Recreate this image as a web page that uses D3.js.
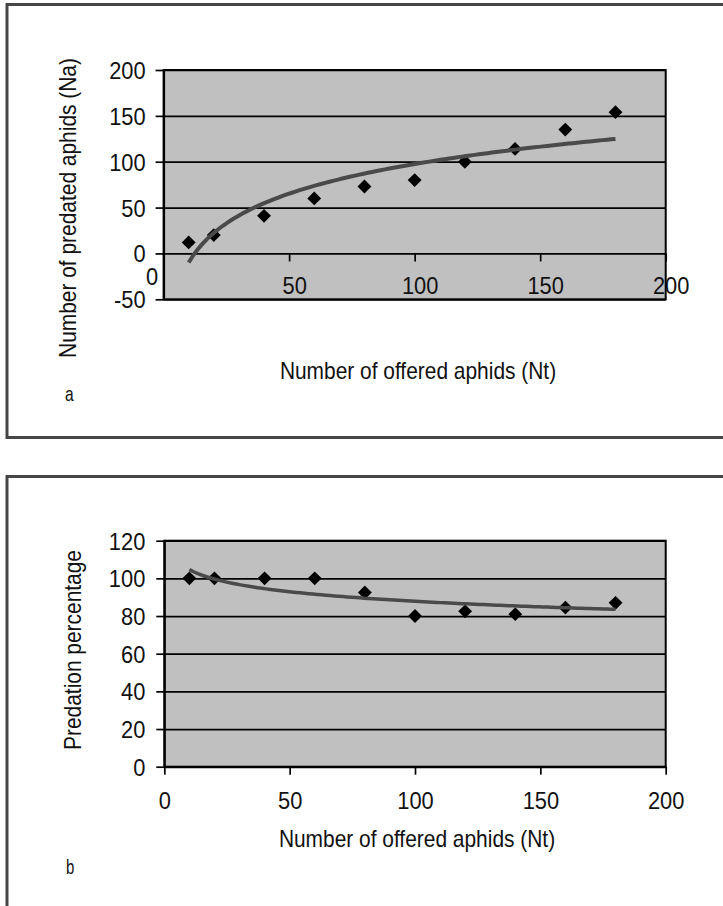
<!DOCTYPE html>
<html><head><meta charset="utf-8">
<script src="https://cdn.jsdelivr.net/npm/d3@7"></script>
<style>
body{margin:0;background:#fff}
svg{display:block}
text{font-family:"Liberation Sans", Arial, Helvetica, sans-serif; fill:#111}
</style>
</head><body>
<svg id="chart" width="723" height="906"></svg>
<script>
// ---- data ----
const offered = [10, 20, 40, 60, 80, 100, 120, 140, 160, 180];          // Nt
const predated = [12, 20, 41, 60, 73, 80, 100, 114, 135, 154];          // Na
const percentage = [100, 100, 100, 100, 92.5, 80, 82.5, 81, 84.5, 87];  // %
const xTickValues = [0, 50, 100, 150, 200];
const yTicksA = [-50, 0, 50, 100, 150, 200];
const yTicksB = [0, 20, 40, 60, 80, 100, 120];
const xTitle = "Number of offered aphids (Nt)";
const yTitleA = "Number of predated aphids (Na)";
const yTitleB = "Predation percentage";

const svg = d3.select("#chart");
const SX = 0.91;      // horizontal squeeze of the condensed font
const FS = 23;
const TFS = 24;       // tick label size
const fmt = d => String(d);   // plain hyphen for negatives, as in the reference

// logarithmic trend line (least squares on ln x), like a spreadsheet trendline
function logFit(xs, ys) {
  const L = xs.map(Math.log);
  const mL = d3.mean(L), mY = d3.mean(ys);
  let sxy = 0, sxx = 0;
  L.forEach((l, i) => { sxy += (l - mL) * (ys[i] - mY); sxx += (l - mL) ** 2; });
  const a = sxy / sxx, b = mY - a * mL;
  return x => a * Math.log(x) + b;
}

function label(g, txt, x, y, opts = {}) {
  return g.append("text")
    .attr("transform", `translate(${x},${y})` + (opts.rotate ? " rotate(-90)" : "") + ` scale(${opts.sx || SX},1)`)
    .attr("text-anchor", opts.anchor || "middle")
    .attr("font-size", opts.size || FS)
    .text(txt);
}

function squeezeAxisText(axisG, dx, dy, anchor) {
  axisG.selectAll(".tick text")
    .attr("x", null).attr("y", null).attr("dy", null)
    .attr("font-size", TFS)
    .attr("font-family", '"Liberation Sans", Arial, sans-serif')
    .attr("fill", "#111")
    .attr("text-anchor", anchor)
    .attr("transform", `translate(${dx},${dy}) scale(${SX},1)`);
}

function diamonds(g, xs, ys, x, y) {
  const sym = d3.symbol().type(d3.symbolSquare).size(96);
  g.selectAll("path.pt").data(xs).join("path")
    .attr("class", "pt")
    .attr("d", sym)
    .attr("fill", "#000")
    .attr("transform", (d, i) => `translate(${x(d)},${y(ys[i])}) rotate(45)`);
}

function trend(g, xs, ys, x, y, w) {
  const f = logFit(xs, ys);
  const x0 = d3.min(xs), x1 = d3.max(xs);
  const samples = d3.range(0, 101).map(i => x0 + (x1 - x0) * i / 100);
  g.append("path")
    .attr("d", d3.line().x(d => x(d)).y(d => y(f(d)))(samples))
    .attr("fill", "none").attr("stroke", "#4a4a4a").attr("stroke-width", w)
    .attr("stroke-linecap", "butt");
}

// ---- panel frames ----
svg.append("rect").attr("x", 7).attr("y", 4.5).attr("width", 730).attr("height", 433)
  .attr("fill", "none").attr("stroke", "#464646").attr("stroke-width", 3);
svg.append("rect").attr("x", 7).attr("y", 476.5).attr("width", 730).attr("height", 450)
  .attr("fill", "none").attr("stroke", "#464646").attr("stroke-width", 3);

// ================= panel a =================
{
  const L = 163.6, R = 665.7, T = 70, B = 299.3;
  const x = d3.scaleLinear().domain([0, 200]).range([L, R]);
  const y = d3.scaleLinear().domain([-50, 200]).range([B, T]);
  const g = svg.append("g");

  g.append("rect").attr("x", L).attr("y", T).attr("width", R - L).attr("height", B - T).attr("fill", "#c0c0c0");

  const ya = g.append("g").attr("transform", `translate(${L},0)`)
    .call(d3.axisLeft(y).tickValues(yTicksA).tickSizeInner(8).tickSizeOuter(0).tickFormat(fmt));
  ya.select(".domain").attr("stroke", "#000").attr("stroke-width", 2);
  ya.selectAll(".tick line").attr("x2", 0).attr("x1", -8).attr("stroke", "#000").attr("stroke-width", 1.7);
  ya.selectAll(".tick").append("line").attr("x1", 0).attr("x2", R - L).attr("stroke", "#000").attr("stroke-width", 1.7);
  squeezeAxisText(ya, -18, 8.5, "end");

  const xa = g.append("g").attr("transform", `translate(0,${y(0)})`)
    .call(d3.axisBottom(x).tickValues(xTickValues).tickSizeInner(8).tickSizeOuter(0).tickFormat(fmt));
  xa.select(".domain").remove();
  xa.selectAll(".tick line").attr("stroke", "#000").attr("stroke-width", 1.7);
  squeezeAxisText(xa, 5, 41, "middle");
  xa.selectAll(".tick text").filter(d => d === 0).attr("transform", `translate(-12,32) scale(${SX},1)`);

  g.append("rect").attr("x", L).attr("y", T).attr("width", R - L).attr("height", B - T)
    .attr("fill", "none").attr("stroke", "#000").attr("stroke-width", 2);

  diamonds(g, offered, predated, x, y);
  trend(g, offered, predated, x, y, 4);

  label(g, yTitleA, 76, 208, { rotate: true });
  label(g, xTitle, 418, 379);
  label(g, "a", 65, 401, { anchor: "start", size: 20, sx: 0.78 });
}

// ================= panel b =================
{
  const L = 164.3, R = 665.7, T = 540.7, B = 766.7;
  const x = d3.scaleLinear().domain([0, 200]).range([L, R]);
  const y = d3.scaleLinear().domain([0, 120]).range([B, T]);
  const g = svg.append("g");

  g.append("rect").attr("x", L).attr("y", T).attr("width", R - L).attr("height", B - T).attr("fill", "#c0c0c0");

  const ya = g.append("g").attr("transform", `translate(${L},0)`)
    .call(d3.axisLeft(y).tickValues(yTicksB).tickSizeInner(8).tickSizeOuter(0).tickFormat(fmt));
  ya.select(".domain").attr("stroke", "#000").attr("stroke-width", 2);
  ya.selectAll(".tick line").attr("x2", 0).attr("x1", -8).attr("stroke", "#000").attr("stroke-width", 1.7);
  ya.selectAll(".tick").append("line").attr("x1", 0).attr("x2", R - L).attr("stroke", "#000").attr("stroke-width", 1.7);
  squeezeAxisText(ya, -19, 8.5, "end");

  const xa = g.append("g").attr("transform", `translate(0,${B})`)
    .call(d3.axisBottom(x).tickValues(xTickValues).tickSizeInner(8).tickSizeOuter(0).tickFormat(fmt));
  xa.select(".domain").attr("stroke", "#000").attr("stroke-width", 2);
  xa.selectAll(".tick line").attr("stroke", "#000").attr("stroke-width", 1.7);
  squeezeAxisText(xa, 0, 42, "middle");

  g.append("rect").attr("x", L).attr("y", T).attr("width", R - L).attr("height", B - T)
    .attr("fill", "none").attr("stroke", "#000").attr("stroke-width", 2);

  diamonds(g, offered, percentage, x, y);
  trend(g, offered, percentage, x, y, 3.5);

  label(g, yTitleB, 81, 650, { rotate: true });
  label(g, xTitle, 417, 847);
  label(g, "b", 66, 874, { anchor: "start", size: 20, sx: 0.75 });
}
</script>
</body></html>
